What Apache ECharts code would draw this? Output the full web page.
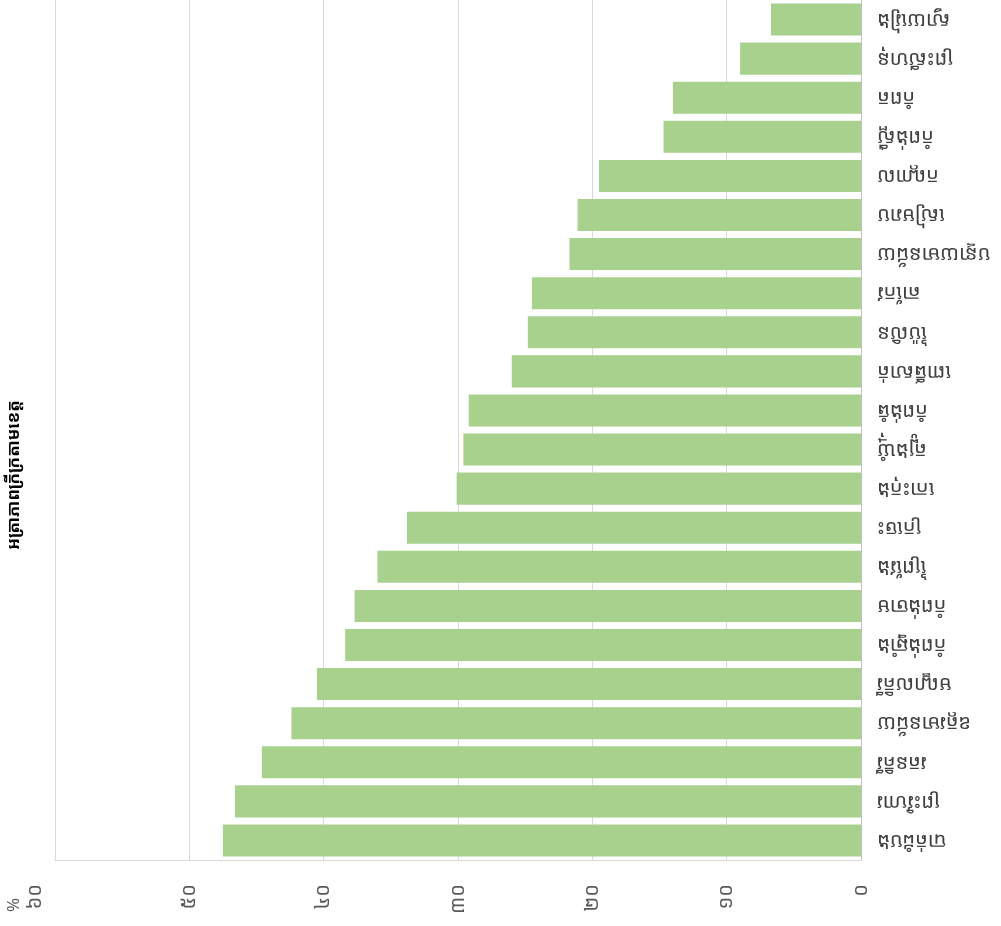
<!DOCTYPE html>
<html>
<head>
<meta charset="utf-8">
<script src="https://cdn.jsdelivr.net/npm/echarts@6/dist/echarts.min.js"></script>
<style>
html,body{margin:0;padding:0;background:#fff;}
#chart{width:1001px;height:926px;}
</style>
</head>
<body>
<div id="chart"></div>
<script>
var categories = ['ស្វាយរៀង','ព្រះសីហនុ','កំពត','កំពង់ស្ពឺ','កណ្តាល','សៀមរាប','បន្ទាយមានជ័យ','តាកែវ','ប៉ៃលិន','ពោធិ៍សាត់','កំពង់ធំ','ត្បូងឃ្មុំ','កោះកុង','ក្រចេះ','ព្រៃវែង','កំពង់ចាម','កំពង់ឆ្នាំង','មណ្ឌលគិរី','ឧត្តរមានជ័យ','រតនគិរី','ព្រះវិហារ','បាត់ដំបង'];
var values = [6.7, 9.0, 14.0, 14.7, 19.5, 21.1, 21.7, 24.5, 24.8, 26.0, 29.2, 29.6, 30.1, 33.8, 36.0, 37.7, 38.4, 40.5, 42.4, 44.6, 46.6, 47.5];
var tickLabels = {0:'០',10:'១០',20:'២០',30:'៣០',40:'៤០',50:'៥០',60:'៦០'};
var titleText = 'អត្រាភាពក្រីក្រតាមខេត្ត';
var unitText = '%';

var khmerFont = '"Khmer OS System","Khmer OS","Noto Sans Khmer","Noto Serif Khmer","Khmer OS Content",sans-serif';
var chart = echarts.init(document.getElementById('chart'));
chart.setOption({
  animation: false,
  grid: {left: 55, right: 140, top: 0, bottom: 66, containLabel: false},
  xAxis: {
    type: 'value', min: 0, max: 60, interval: 10, inverse: true, position: 'bottom',
    axisLine: {show: true, lineStyle: {color: '#d9d9d9'}},
    axisTick: {show: false},
    splitLine: {show: true, lineStyle: {color: '#d9d9d9', width: 1}},
    axisLabel: {
      rotate: 90, margin: 24, fontSize: 20, color: '#595959', fontFamily: khmerFont,
      formatter: function (v) { return v === 60 ? '{s|' + tickLabels[v] + '}' : tickLabels[v]; },
      rich: {s: {fontSize: 20, color: '#595959', fontFamily: khmerFont, padding: [0, 0, 40, 0]}}
    }
  },
  yAxis: {
    type: 'category', data: categories, inverse: true, position: 'right',
    axisLine: {show: true, lineStyle: {color: '#bfbfbf'}},
    axisTick: {show: false},
    axisLabel: {rotate: 180, margin: 16, fontSize: 20, color: '#404040', fontFamily: khmerFont}
  },
  series: [{
    type: 'bar', data: values, barCategoryGap: '18%',
    itemStyle: {color: '#a9d18e'}
  }],
  graphic: [
    {type: 'text', x: 14, y: 475, rotation: Math.PI / 2,
     style: {text: titleText, font: 'bold 17px ' + khmerFont, fill: '#000', align: 'center', verticalAlign: 'middle'}},
    {type: 'text', x: 14, y: 905, rotation: Math.PI / 2,
     style: {text: unitText, font: '17px ' + khmerFont, fill: '#595959', align: 'center', verticalAlign: 'middle'}}
  ]
});
</script>
</body>
</html>
